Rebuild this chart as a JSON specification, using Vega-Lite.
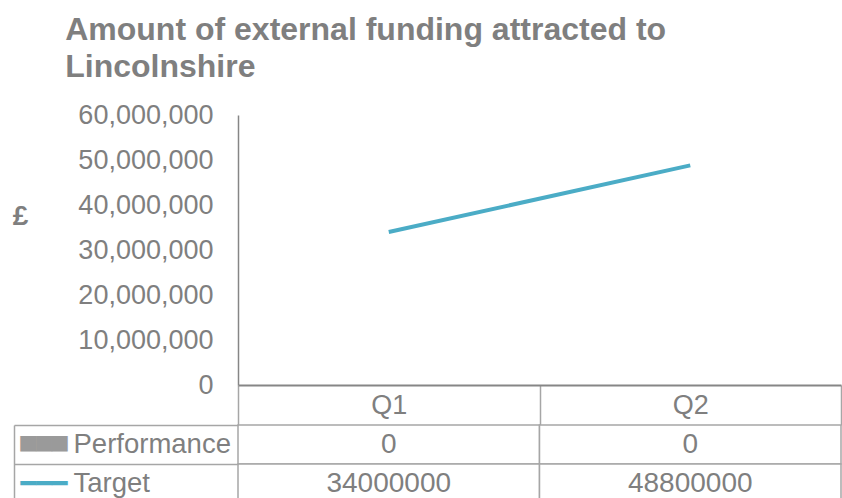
{
  "$schema": "https://vega.github.io/schema/vega-lite/v6.json",
  "padding": {"left": 12, "top": 14, "right": 0, "bottom": 0},
  "config": {"view": {"stroke": null}, "font": "Liberation Sans"},
  "title": {
    "text": ["Amount of external funding attracted to", "Lincolnshire"],
    "anchor": "start",
    "fontSize": 32,
    "fontWeight": "bold",
    "color": "#7f7f7f",
    "font": "Liberation Sans",
    "lineHeight": 37,
    "dx": 53,
    "offset": 17
  },
  "datasets": {
    "table": [
      {"quarter": "Q1", "series": "Performance", "value": 0},
      {"quarter": "Q2", "series": "Performance", "value": 0},
      {"quarter": "Q1", "series": "Target", "value": 34000000},
      {"quarter": "Q2", "series": "Target", "value": 48800000}
    ]
  },
  "bounds": "flush",
  "spacing": 40,
  "vconcat": [
    {
      "width": 603,
      "height": 270,
      "data": {"name": "table"},
      "transform": [{"filter": "datum.series === 'Target'"}],
      "mark": {"type": "line", "color": "#4BACC6", "strokeWidth": 4},
      "encoding": {
        "x": {
          "field": "quarter",
          "type": "nominal",
          "sort": ["Q1", "Q2"],
          "bandPosition": 0.5,
          "scale": {"type": "band", "paddingInner": 0, "paddingOuter": 0},
          "axis": {
            "orient": "bottom",
            "title": null,
            "labelAngle": 0,
            "labelFontSize": 27,
            "labelColor": "#7f7f7f",
            "labelBaseline": "middle",
            "labelPadding": -20,
            "ticks": true,
            "tickBand": "extent",
            "tickSize": 40,
            "tickColor": "#a6a6a6",
            "tickWidth": 1.5,
            "domainColor": "#868686",
            "domainWidth": 2,
            "grid": false
          }
        },
        "y": {
          "field": "value",
          "type": "quantitative",
          "scale": {"domain": [0, 60000000], "nice": false},
          "axis": {
            "values": [0, 10000000, 20000000, 30000000, 40000000, 50000000, 60000000],
            "format": ",d",
            "labelFontSize": 27,
            "labelColor": "#7f7f7f",
            "ticks": false,
            "tickSize": 0,
            "labelPadding": 25,
            "domainColor": "#868686",
            "domainWidth": 1.5,
            "grid": false,
            "title": "£",
            "titleAngle": 0,
            "titleFont": "Liberation Sans",
            "titleFontSize": 28,
            "titleFontWeight": "bold",
            "titleColor": "#7f7f7f",
            "titleAlign": "center",
            "titleBaseline": "middle",
            "titleX": -218,
            "titleY": 101
          }
        }
      }
    },
    {
      "width": 603,
      "height": 78,
      "data": {"name": "table"},
      "resolve": {"axis": {"y": "independent"}},
      "layer": [
        {
          "mark": {"type": "rect", "fill": "white", "stroke": "#a6a6a6", "strokeWidth": 1.5},
          "encoding": {
            "x": {
              "field": "quarter", "type": "nominal", "sort": ["Q1", "Q2"],
              "scale": {"type": "band", "paddingInner": 0, "paddingOuter": 0},
              "axis": null
            },
            "y": {
              "field": "series", "type": "nominal", "sort": ["Performance", "Target"],
              "scale": {"type": "band", "paddingInner": 0, "paddingOuter": 0},
              "axis": {
                "orient": "left",
                "title": null,
                "domain": false,
                "ticks": true,
                "tickBand": "extent",
                "tickSize": 224,
                "tickColor": "#a6a6a6",
                "tickWidth": 1.5,
                "labelAlign": "left",
                "labelBaseline": "middle",
                "labelPadding": -59,
                "labelFontSize": 27.5,
                "labelColor": "#7f7f7f"
              }
            }
          }
        },
        {
          "mark": {"type": "text", "fontSize": 28, "color": "#7f7f7f", "baseline": "middle"},
          "encoding": {
            "x": {"field": "quarter", "type": "nominal", "sort": ["Q1", "Q2"], "bandPosition": 0.5, "axis": null},
            "y": {
              "field": "series", "type": "nominal", "sort": ["Performance", "Target"], "bandPosition": 0.5,
              "axis": {
                "orient": "left",
                "title": null,
                "offset": 224,
                "domain": true,
                "domainColor": "#a6a6a6",
                "domainWidth": 1.5,
                "ticks": false,
                "tickSize": 0,
                "labelAlign": "left",
                "labelPadding": -6,
                "labelExpr": "datum.value === 'Target' ? '━━━' : '▄▄▄'",
                "labelBaseline": {"condition": {"test": "datum.value === 'Target'", "value": "middle"}, "value": "alphabetic"},
                "labelColor": {"condition": {"test": "datum.value === 'Target'", "value": "#4BACC6"}, "value": "#9a9a9a"},
                "labelFontSize": 26,
                "labelFont": "DejaVu Sans Mono"
              }
            },
            "text": {"field": "value", "type": "quantitative", "format": "d"}
          }
        }
      ]
    }
  ]
}
